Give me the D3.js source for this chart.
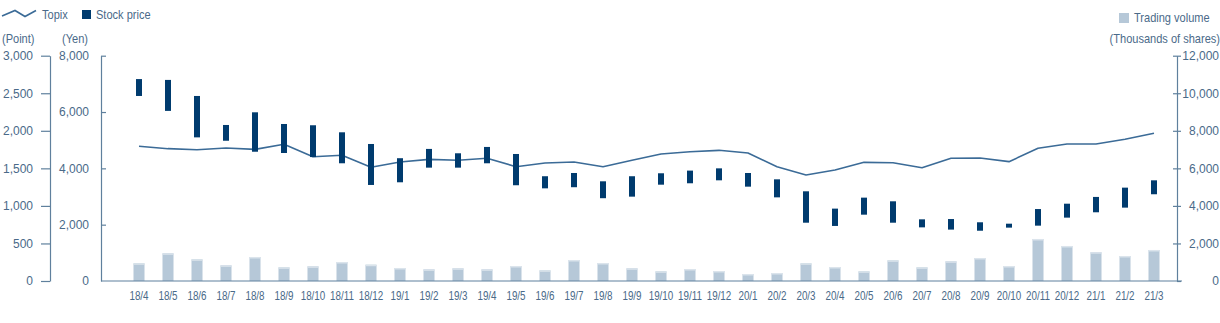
<!DOCTYPE html>
<html>
<head>
<meta charset="utf-8">
<script src="https://cdn.jsdelivr.net/npm/d3@7"></script>
<style>
  html, body { margin: 0; padding: 0; background: #fff; }
  svg { display: block; }
  text { font-family: "Liberation Sans", Arial, sans-serif; fill: #4a6a89; }
  .cs { transform-box: fill-box; transform-origin: left center; transform: scaleX(0.85); }
  .ce { transform-box: fill-box; transform-origin: right center; transform: scaleX(0.85); }
  .cm { transform-box: fill-box; transform-origin: center center; transform: scaleX(0.82); }
</style>
</head>
<body>
<svg id="chart" width="1220" height="323"></svg>
<script>
const months = ["18/4","18/5","18/6","18/7","18/8","18/9","18/10","18/11","18/12",
  "19/1","19/2","19/3","19/4","19/5","19/6","19/7","19/8","19/9","19/10","19/11","19/12",
  "20/1","20/2","20/3","20/4","20/5","20/6","20/7","20/8","20/9","20/10","20/11","20/12",
  "21/1","21/2","21/3"];
const priceHigh = [7170,7140,6570,5540,5990,5575,5530,5280,4865,
  4360,4690,4535,4760,4510,3720,3835,3540,3720,3825,3920,4000,
  3835,3610,3185,2570,2960,2830,2190,2200,2085,2035,2555,2745,
  2985,3315,3575];
const priceLow = [6570,6040,5100,4980,4590,4545,4400,4180,3410,
  3505,4025,4025,4180,3400,3290,3330,2940,2995,3420,3470,3575,
  3350,2970,2070,1955,2355,2070,1905,1825,1785,1895,1965,2250,
  2440,2605,3080];
const topix = [1794,1762,1748,1771,1753,1820,1655,1674,1514,
  1585,1620,1607,1634,1522,1571,1585,1522,1607,1691,1722,1740,
  1704,1522,1411,1478,1580,1575,1509,1634,1638,1589,1767,1824,
  1824,1887,1967];
const volume = [943,1476,1156,836,1279,730,783,1012,868,
  693,623,677,623,799,570,1119,959,677,517,639,533,
  373,426,943,746,517,1103,730,1050,1225,799,2238,1865,
  1535,1332,1652];
const pointTicks = [0,500,1000,1500,2000,2500,3000];
const yenTicks = [0,2000,4000,6000,8000];
const volTicks = [0,2000,4000,6000,8000,10000,12000];

const svg = d3.select("#chart");
const axisColor = "#5f809d";
const textColor = "#4a6a89";
const y0 = 281, yTop = 55.7;

const x = d3.scalePoint().domain(months).range([139, 1154]);
const yPoint = d3.scaleLinear().domain([0, 3000]).range([y0, yTop]);
const yYen = d3.scaleLinear().domain([0, 8000]).range([y0, yTop]);
const yVol = d3.scaleLinear().domain([0, 12000]).range([y0, yTop]);

// Volume bars
const vw = 11;
const vg = svg.append("g");
vg.selectAll("rect.v").data(months).join("rect")
  .attr("x", d => x(d) - vw/2)
  .attr("y", (d,i) => yVol(volume[i]))
  .attr("width", vw)
  .attr("height", (d,i) => y0 - yVol(volume[i]))
  .attr("fill", "#b6c8d8");
vg.selectAll("rect.c").data(months).join("rect")
  .attr("x", d => x(d) - vw/2)
  .attr("y", (d,i) => yVol(volume[i]))
  .attr("width", vw)
  .attr("height", 1.5)
  .attr("fill", "#dbe4ec");

// Topix line
svg.append("path")
  .datum(months)
  .attr("fill", "none")
  .attr("stroke", "#3b6b97")
  .attr("stroke-width", 1.6)
  .attr("stroke-linejoin", "round")
  .attr("d", d3.line().x(d => x(d)).y((d,i) => yPoint(topix[i])));

// Stock price bars
const sw = 6;
const sg = svg.append("g");
sg.selectAll("rect").data(months).join("rect")
  .attr("x", d => x(d) - sw/2)
  .attr("y", (d,i) => yYen(priceHigh[i]))
  .attr("width", sw)
  .attr("height", (d,i) => yYen(priceLow[i]) - yYen(priceHigh[i]))
  .attr("fill", "#003b6e");

// Axes
function styleAxis(g) {
  g.select(".domain").attr("stroke", axisColor).attr("stroke-width", 1.2);
  g.selectAll(".tick line").attr("stroke", axisColor).attr("stroke-width", 1.2);
  g.selectAll(".tick text").attr("fill", textColor)
    .style("font-family", '"Liberation Sans", Arial, sans-serif')
    .style("font-size", "12px");
}
// Point axis
const gP = svg.append("g").attr("transform", "translate(50,0)")
  .call(d3.axisLeft(yPoint).tickValues(pointTicks).tickFormat(d3.format(",")).tickSize(9).tickSizeOuter(0).tickPadding(8));
styleAxis(gP);
// Yen axis: ticks cross the line
const gY = svg.append("g").attr("transform", "translate(101,0)")
  .call(d3.axisLeft(yYen).tickValues(yenTicks).tickFormat(d3.format(",")).tickSize(5).tickSizeOuter(0).tickPadding(7));
styleAxis(gY);
gY.selectAll(".tick line").attr("x2", 5);
gY.selectAll(".tick").filter(d => d === 0).select("line").attr("x2", 0);
// Volume axis right
const gV = svg.append("g").attr("transform", "translate(1177,0)")
  .call(d3.axisRight(yVol).tickValues(volTicks).tickFormat(d3.format(",")).tickSize(4).tickSizeOuter(0).tickPadding(0));
styleAxis(gV);
gV.selectAll(".tick line").attr("x1", -4).attr("x2", 4);
gV.selectAll(".tick").filter(d => d === 0).select("line").attr("x1", 0);
gV.selectAll(".tick text").attr("text-anchor", "end").attr("x", 42);

// Baseline
svg.append("line").attr("x1", 101).attr("x2", 1182).attr("y1", y0).attr("y2", y0)
  .attr("stroke", axisColor).attr("stroke-width", 1.2);

// X axis labels
svg.append("g").selectAll("text").data(months).join("text")
  .attr("class", "cm")
  .attr("x", d => x(d)).attr("y", 300)
  .attr("text-anchor", "middle")
  .style("font-size", "12px")
  .text(d => d);

// Unit labels
svg.append("text").attr("class", "cs").attr("x", 2).attr("y", 43).style("font-size", "13px").text("(Point)");
svg.append("text").attr("class", "cs").attr("x", 62).attr("y", 43).style("font-size", "13px").text("(Yen)");
svg.append("text").attr("class", "ce").attr("x", 1220).attr("y", 43).attr("text-anchor", "end").style("font-size", "13px").text("(Thousands of shares)");

// Legend
svg.append("path").attr("d", "M2,16 L15,10.5 L25,16.5 L36,10.5")
  .attr("fill", "none").attr("stroke", "#3b6b97").attr("stroke-width", 1.6);
svg.append("text").attr("class", "cs").attr("x", 42).attr("y", 19).style("font-size", "13px").text("Topix");
svg.append("rect").attr("x", 82).attr("y", 10).attr("width", 9).attr("height", 9).attr("fill", "#003b6e");
svg.append("text").attr("class", "cs").attr("x", 96).attr("y", 19).style("font-size", "13px").text("Stock price");
svg.append("rect").attr("x", 1119).attr("y", 13).attr("width", 10).attr("height", 10).attr("fill", "#b6c8d8");
svg.append("text").attr("class", "cs").attr("x", 1134).attr("y", 22).style("font-size", "13px").text("Trading volume");
</script>
</body>
</html>
